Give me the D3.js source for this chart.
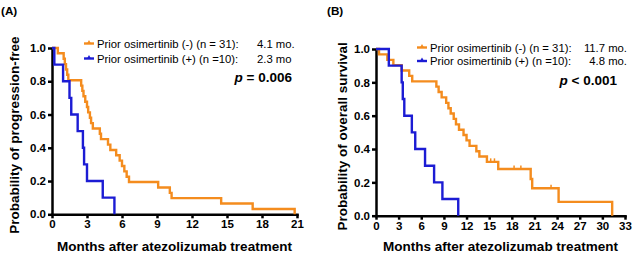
<!DOCTYPE html>
<html>
<head>
<meta charset="utf-8">
<script src="https://cdn.jsdelivr.net/npm/d3@7"></script>
<style>
  body { margin: 0; background: #fff; }
  svg { display: block; font-family: "Liberation Sans", Arial, sans-serif; }
  .axis path, .axis line { stroke: #000; stroke-width: 2.5; }
  .axis text { font-size: 11.5px; font-weight: bold; fill: #000; }
</style>
</head>
<body>
<svg id="chart" width="635" height="258"></svg>
<script>
// 数据
const yTicks = [0, 0.2, 0.4, 0.6, 0.8, 1.0];
const pfsTicks = [0, 3, 6, 9, 12, 15, 18, 21];
const osTicks = [0, 3, 6, 9, 12, 15, 18, 21, 24, 27, 30, 33];

// (A) 无进展生存
const pfsNegT = [0, 0.5, 1.0, 1.1, 1.2, 1.3, 1.4, 2.5, 2.6, 2.7, 2.85, 3.0, 3.1, 3.25, 3.35, 3.5, 4.1, 4.2, 4.8, 5.0, 5.5, 5.8, 6.0, 6.2, 6.4, 6.6, 9.1, 10.1, 10.25, 14.5, 17.2, 20.8];
const pfsNegS = [1, .968, .935, .903, .871, .839, .806, .774, .742, .710, .677, .645, .613, .581, .548, .516, .484, .452, .419, .387, .355, .323, .290, .258, .226, .194, .161, .129, .097, .065, .032, 0];
const pfsPosT = [0, 0.2, 0.95, 1.5, 1.65, 2.2, 2.65, 2.75, 3.0, 4.35, 5.35];
const pfsPosS = [1, .9, .8, .7, .6, .5, .4, .3, .2, .1, 0];

// (B) 总生存
const osNegT = [0, 0.4, 1.5, 2.3, 3.4, 4.4, 4.8, 8.0, 8.3, 8.7, 9.3, 9.6, 9.9, 10.3, 10.6, 11.0, 11.6, 12.0, 12.4, 13.3, 13.7, 14.7, 16.2, 20.5, 20.7, 24.2, 31.3];
const osNegS = [1, .968, .935, .903, .871, .839, .806, .774, .742, .710, .677, .645, .613, .581, .548, .516, .484, .452, .419, .387, .355, .323, .280, .220, .165, .083, 0];
const osNegCensor = [15.2, 15.7, 18.3, 19.2, 23.2];
const osPosT = [0, 1.7, 3.4, 3.55, 3.75, 4.75, 5.2, 6.5, 7.7, 8.8, 10.9];
const osPosS = [1, .9, .8, .7, .6, .5, .4, .3, .2, .1, 0];

const ORANGE = '#f48c1e';
const BLUE = '#1c1cd4';

const svg = d3.select('#chart');

function drawPanel(p) {
    const x = d3.scaleLinear().domain([0, p.xMax]).range([p.x0, p.x1]);
    const y = d3.scaleLinear().domain([0, 1]).range([p.y0, p.y1]);
    const g = svg.append('g');

    // 坐标轴
    g.append('g')
        .attr('class', 'axis')
        .attr('transform', `translate(0,${p.y0})`)
        .call(d3.axisBottom(x).tickValues(p.xTicks).tickSize(4).tickSizeOuter(0).tickPadding(2))
        .call(a => a.select('.domain').attr('stroke-linecap', 'square'));
    g.append('g')
        .attr('class', 'axis')
        .attr('transform', `translate(${p.x0},0)`)
        .call(d3.axisLeft(y).tickValues(yTicks).tickFormat(d3.format('.1f')).tickSize(4).tickSizeOuter(0).tickPadding(2));

    // 生存曲线
    const line = d3.line().curve(d3.curveStepAfter)
        .x(d => x(d[0])).y(d => y(d[1]));
    p.series.forEach(s => {
        const pts = d3.zip(s.t, s.s);
        g.append('path')
            .datum(pts)
            .attr('fill', 'none')
            .attr('stroke', s.color)
            .attr('stroke-width', 2.4)
            .attr('d', line);
        if (s.censor) {
            const step = d3.scaleThreshold().domain(s.t.slice(1)).range(s.s);
            g.selectAll(null).data(s.censor).enter().append('line')
                .attr('x1', d => x(d)).attr('x2', d => x(d))
                .attr('y1', d => y(step(d))).attr('y2', d => y(step(d)) - 3.5)
                .attr('stroke', s.color).attr('stroke-width', 1.5);
        }
    });

    // 轴标题
    g.append('text')
        .attr('transform', `translate(${p.yTitleX},${(p.y0 + p.y1) / 2 + 4}) rotate(-90)`)
        .attr('text-anchor', 'middle')
        .attr('font-size', 13.5).attr('font-weight', 'bold')
        .text(p.yTitle);
    g.append('text')
        .attr('x', (p.x0 + p.x1) / 2).attr('y', 251)
        .attr('text-anchor', 'middle')
        .attr('font-size', 13.5).attr('font-weight', 'bold')
        .text('Months after atezolizumab treatment');

    // 面板标签
    g.append('text')
        .attr('x', p.labelX).attr('y', 15)
        .attr('font-size', 11.7).attr('font-weight', 'bold')
        .text(p.label);

    // 图例
    p.legend.forEach((l, i) => {
        const ly = p.legY[i];
        g.append('line')
            .attr('x1', p.legX - 13).attr('x2', p.legX - 3)
            .attr('y1', ly).attr('y2', ly)
            .attr('stroke', l.color).attr('stroke-width', 2.4);
        g.append('path')
            .attr('d', `M${p.legX - 10},${ly} L${p.legX - 8},${ly - 3.5} L${p.legX - 6},${ly} Z`)
            .attr('fill', l.color);
        g.append('text')
            .attr('x', p.legX).attr('y', ly).attr('dy', '0.36em')
            .attr('font-size', 11.3)
            .text(l.text);
        g.append('text')
            .attr('x', p.valX).attr('y', ly).attr('dy', '0.36em')
            .attr('text-anchor', p.valAnchor)
            .attr('font-size', 11.3)
            .text(l.val);
    });

    const pt = g.append('text')
        .attr('x', p.pX).attr('y', p.pY).attr('dy', '0.36em')
        .attr('text-anchor', 'end')
        .attr('font-size', 13.5).attr('font-weight', 'bold');
    pt.append('tspan').attr('font-style', 'italic').text('p');
    pt.append('tspan').text(p.pText);
}

drawPanel({
    label: '(A)', labelX: 1,
    x0: 52, x1: 297, y0: 214.3, y1: 48, xMax: 21, xTicks: pfsTicks,
    yTitle: 'Probability of progression-free', yTitleX: 19,
    series: [
        { t: pfsNegT, s: pfsNegS, color: ORANGE },
        { t: pfsPosT, s: pfsPosS, color: BLUE }
    ],
    legend: [
        { text: 'Prior osimertinib (-) (n = 31):', val: '4.1 mo.', color: ORANGE },
        { text: 'Prior osimertinib (+) (n =10):', val: '2.3 mo', color: BLUE }
    ],
    legX: 97, legY: [43.5, 58.5], valX: 257, valAnchor: 'start',
    pX: 292, pY: 77.5, pText: ' = 0.006'
});

drawPanel({
    label: '(B)', labelX: 327,
    x0: 376, x1: 625, y0: 215.7, y1: 49, xMax: 33, xTicks: osTicks,
    yTitle: 'Probability of overall survival', yTitleX: 347,
    series: [
        { t: osNegT, s: osNegS, color: ORANGE, censor: osNegCensor },
        { t: osPosT, s: osPosS, color: BLUE }
    ],
    legend: [
        { text: 'Prior osimertinib (-) (n = 31):', val: '11.7 mo.', color: ORANGE },
        { text: 'Prior osimertinib (+) (n =10):', val: '4.8 mo.', color: BLUE }
    ],
    legX: 430, legY: [47.5, 61], valX: 627, valAnchor: 'end',
    pX: 617, pY: 80, pText: ' < 0.001'
});
</script>
</body>
</html>
